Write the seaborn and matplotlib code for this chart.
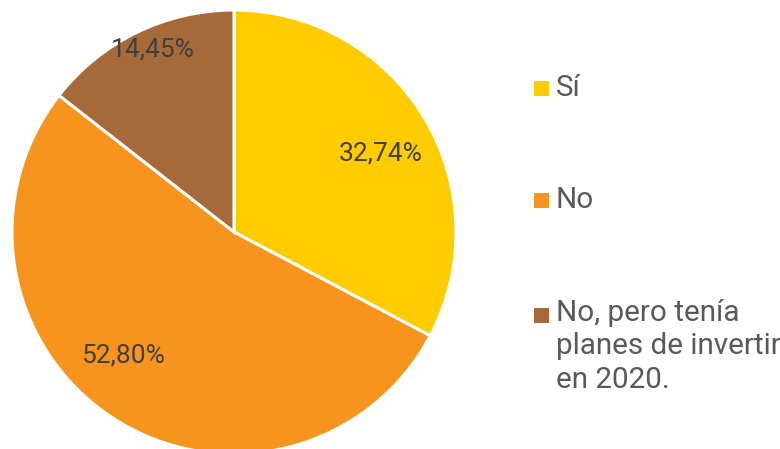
import numpy as np
import seaborn as sns
from matplotlib import pyplot as plt
from matplotlib.patches import Rectangle

# data
categories = ["Sí", "No", "No, pero tenía\nplanes de invertir\nen 2020."]
shares = [32.74, 52.80, 14.45]
pct_labels = ["32,74%", "52,80%", "14,45%"]
colors = ["#FFCC00", "#F7941E", "#A66A3A"]

# label placement (fraction of radius, angle shift in degrees)
label_r = [0.75, 0.75, 0.90]
label_shift = [-3, -9, -2]


def main():
    sns.set_theme(style="white")
    plt.rcParams['font.family'] = ['Roboto', 'DejaVu Sans']

    W, H = 780, 449
    fig = plt.figure(figsize=(W / 100, H / 100), dpi=100)
    ax = fig.add_axes([12 / W, (H - 454) / H, 444 / W, 444 / H])

    wedges, _ = ax.pie(shares, colors=sns.color_palette(colors), startangle=90, counterclock=False,
                       radius=1, wedgeprops=dict(edgecolor='white', linewidth=2.2))
    ax.set_xlim(-1, 1)
    ax.set_ylim(-1, 1)
    ax.set_aspect('equal')
    ax.axis('off')

    for w, txt, r, sh in zip(wedges, pct_labels, label_r, label_shift):
        mid = np.deg2rad((w.theta1 + w.theta2) / 2 + sh)
        ax.text(r * np.cos(mid), r * np.sin(mid), txt, ha='center', va='center',
                fontsize=19, color='#404040')

    # legend drawn by hand so the marker sits on the first text line
    baselines = [96, 208, 323]
    line_px = 32.5
    for lab, c, b in zip(categories, colors, baselines):
        fig.add_artist(Rectangle((534 / W, (H - b) / H), 15 / W, 15 / H,
                                 transform=fig.transFigure, facecolor=c, edgecolor='none'))
        # matplotlib puts the baseline of the last line at y
        last = b + (lab.count('\n')) * line_px
        fig.text(556 / W, (H - last) / H, lab, ha='left', va='baseline',
                 fontsize=21.3, color='#595959', linespacing=1.25)

    fig.savefig('out.png', dpi=100)


if __name__ == '__main__':
    main()
